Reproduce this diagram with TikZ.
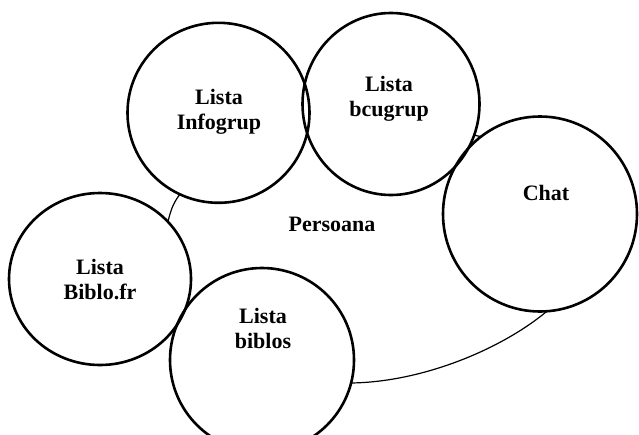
\documentclass[tikz,border=0pt]{standalone}
\usepackage{fontspec}
\setmainfont{Liberation Serif}
\usetikzlibrary{shapes.geometric,backgrounds,calc}

\begin{document}
\begin{tikzpicture}[x=1pt,y=-1pt,
    bubble/.style={ellipse, draw, line width=2.6pt, inner sep=0pt, outer sep=0pt},
    lbl/.style={align=center, inner sep=0pt, font=\fontsize{22}{25}\selectfont\bfseries},
    outline/.style={draw, line width=1.2pt}]
  \useasboundingbox (0,0) rectangle (639,434);

  % the five lists
  \node[bubble, minimum width=182pt, minimum height=180pt] (infogrup) at (218.5,112.8) {};
  \node[bubble, minimum width=177pt, minimum height=182pt] (bcugrup) at (391,104) {};
  \node[bubble, minimum width=194pt, minimum height=195pt] (chat) at (540,214) {};
  \node[bubble, minimum width=182pt, minimum height=172pt] (biblofr) at (100,279) {};
  \node[bubble, minimum width=184pt, minimum height=184pt] (biblos) at (262,360) {};

  \node[lbl] (infogrupText) at (219,111.7) {Lista\\Infogrup};
  \node[lbl] (bcugrupText) at (389,99) {Lista\\bcugrup};
  \node[lbl] (chatText) at (546,192.6) {Chat};
  \node[lbl] (biblofrText) at (100,279.5) {Lista\\Biblo.fr};
  \node[lbl] (biblosText) at (263,328.5) {Lista\\biblos};
  \node[lbl] (persoanaText) at (332,224.4) {Persoana};

  % the person, behind the lists
  \begin{scope}[on background layer]
    \draw[outline] (183,316) .. controls (160,280) and (162,235) .. (172,208)
      .. controls (185,175) and (250,130) .. (305,118)
      .. controls (360,106) and (430,125) .. (478,136)
      .. controls (560,150) and (610,260) .. (546,312)
      .. controls (500,350) and (420,383) .. (348,383)
      .. controls (300,383) and (215,350) .. (183,316);
    \foreach \bub in {infogrup,bcugrup,chat,biblofr,biblos}
      \fill[white] let \p1=($(\bub.east)-(\bub.center)$), \p2=($(\bub.north)-(\bub.center)$)
        in (\bub.center) ellipse ({\x1} and {\y2});
  \end{scope}
\end{tikzpicture}
\end{document}
